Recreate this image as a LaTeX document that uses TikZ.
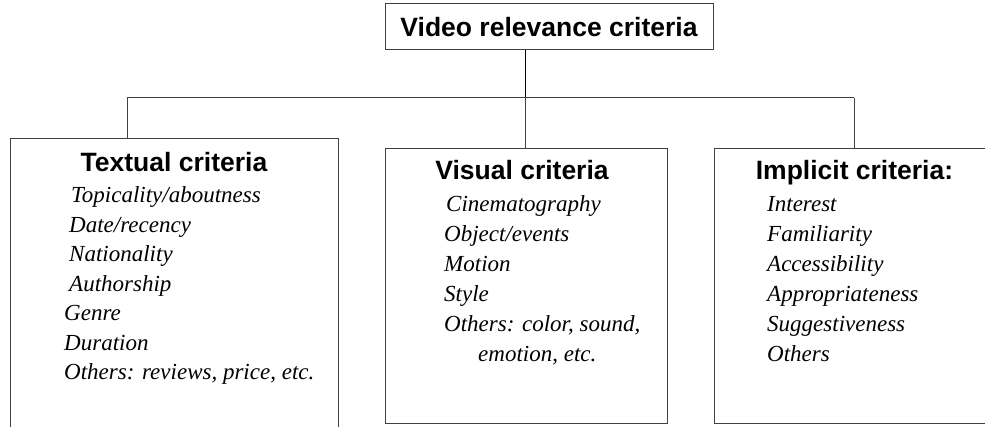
\documentclass[tikz,border=0pt]{standalone}
\usepackage{fontspec}
\setmainfont{Liberation Serif}
\setsansfont{Liberation Sans}
\usetikzlibrary{positioning}

\tikzset{
  box/.style={draw=black!75, line width=1pt, inner sep=0pt},
  head/.style={font=\sffamily\bfseries\fontsize{26.5}{30}\selectfont, inner sep=0pt, anchor=base},
  item/.style={font=\itshape\fontsize{23}{28}\selectfont, inner sep=0pt, anchor=base west},
  link/.style={draw=black!75, line width=1pt}
}

\begin{document}
\begin{tikzpicture}[x=1pt, y=-1pt]

  \useasboundingbox (0,0) rectangle (985,427);
  \clip (0,0) rectangle (985,427);

  % root
  \node[box, minimum width=328pt, minimum height=46pt, text height=20pt, text depth=0pt,
        font=\sffamily\bfseries\fontsize{26.5}{30}\selectfont] (root) at (549,27) {Video relevance criteria};

  % the three groups
  \node[box, minimum width=328pt, minimum height=310pt, anchor=north] (textual) at (174,138.5) {};
  \node[box, minimum width=281.5pt, minimum height=274.7pt, anchor=north] (visual) at (526.25,148) {};
  \node[box, minimum width=280pt, minimum height=274.7pt, anchor=north] (implicit) at (854,148) {};

  % tree lines
  \coordinate (bus) at (525,98);
  \coordinate (busL) at (127,98);
  \coordinate (busR) at (implicit.north |- bus);
  \draw[link, draw=black] (root.south -| bus) -- (bus);
  \draw[link] (busL) -- (busR);
  \draw[link] (busL) -- (busL |- textual.north);
  \draw[link] (bus) -- (bus |- visual.north);
  \draw[link] (busR) -- (implicit.north);

  % headings
  \node[head] (texthead) at (174,172) {Textual criteria};
  \node[head] (vishead) at (522,180) {Visual criteria};
  \node[head] (imphead) at (854.5,180) {Implicit criteria:};

  % items
  \foreach \x/\t [count=\i] in {71/{Topicality/aboutness}, 69/{Date/recency}, 69/Nationality,
      69/Authorship, 64/Genre, 64/Duration, 64/{Others: reviews, price, etc.}}
    \node[item] (tx\i) at (\x,{173.5+29.5*\i}) {\t};

  \foreach \x/\t [count=\i] in {446/Cinematography, 444/{Object/events}, 444/Motion,
      444/Style, 444/{Others: color, sound,}, 478/{emotion, etc.}}
    \node[item] (vi\i) at (\x,{182+30*\i}) {\t};

  \foreach \t [count=\i] in {Interest, Familiarity, Accessibility, Appropriateness,
      Suggestiveness, Others}
    \node[item] (im\i) at (767,{182+30*\i}) {\t};

\end{tikzpicture}
\end{document}
